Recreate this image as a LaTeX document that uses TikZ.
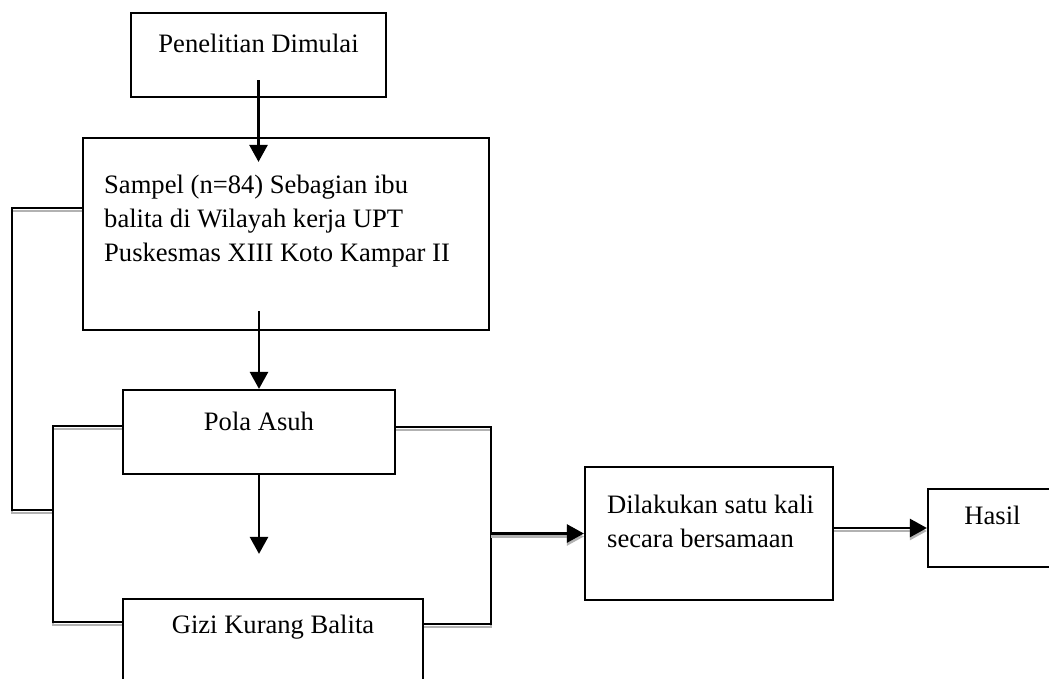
\documentclass[tikz,border=0pt]{standalone}
\usepackage{fontspec}
\setmainfont{Liberation Serif}
\usetikzlibrary{arrows.meta}
\tikzstyle{bx}=[rectangle,draw=black,line width=2.2pt,inner sep=0pt]
\tikzstyle{tx}=[inner sep=0pt,font=\fontsize{26.6}{34}\selectfont]
\tikzstyle{ln}=[line width=2.6pt,black]
\tikzstyle{shd}=[preaction={draw=black!30,line width=2.6pt,transform canvas={yshift=-3pt}}]
\tikzstyle{arr}=[-{Triangle[length=17pt,width=18pt]}]

\begin{document}
\begin{tikzpicture}[x=1pt,y=1pt]
\useasboundingbox (0,0) rectangle (1049,-678);
\clip (0,0) rectangle (1049,-678);
% boxes
\node[bx,minimum width=255,minimum height=84] (pen) at (258.5,-55) {};
\node[bx,minimum width=406,minimum height=192] (samp) at (286,-234) {};
\node[bx,minimum width=272,minimum height=84] (pola) at (259,-432) {};
\node[bx,minimum width=300,minimum height=102] (gizi) at (273,-650) {};
\node[bx,minimum width=248,minimum height=133] (dil) at (709,-533.5) {};
\node[bx,minimum width=129,minimum height=78] (hasil) at (992.5,-528) {};
% texts
\node[tx] (tpen) at (258.5,-43) {Penelitian Dimulai};
\node[tx,anchor=west,align=left] (tsamp) at (104,-221) {Sampel (n=84) Sebagian ibu\\balita di Wilayah kerja UPT\\Puskesmas XIII Koto Kampar II};
\node[tx] (tpola) at (259,-421) {Pola Asuh};
\node[tx] (tgizi) at (273,-627) {Gizi Kurang Balita};
\node[tx,anchor=west,align=left] (tdil) at (607,-521) {Dilakukan satu kali\\secara bersamaan};
\node[tx] (thasil) at (992.5,-515) {Hasil};
% bracket corners
\coordinate (lo) at (12,-510);
\coordinate (li) at (53,-426);
\coordinate (rb) at (491,-427);
% arrows down
\draw[ln,arr] ([yshift=18pt]pen.south) -- ([yshift=-25pt]samp.north -| pen.south);
\draw[ln,arr] ([yshift=20pt]samp.south -| pola.north) -- (pola.north);
\draw[ln,arr] (pola.south) -- ([yshift=44pt]gizi.north -| pola.south);
% brackets
\draw[ln,shd] ([yshift=26pt]samp.west) -| (lo) -- (lo -| li);
\draw[ln,shd] ([yshift=6pt]pola.west) -- (li) |- ([yshift=28pt]gizi.west);
\draw[ln,shd] ([yshift=5pt]pola.east) -- (rb) |- ([yshift=26pt]gizi.east);
% arrows right
\draw[ln,shd,arr] (dil.west -| rb) -- (dil.west);
\draw[ln,shd,arr] (hasil.west -| dil.east) -- (hasil.west);
\end{tikzpicture}
\end{document}
